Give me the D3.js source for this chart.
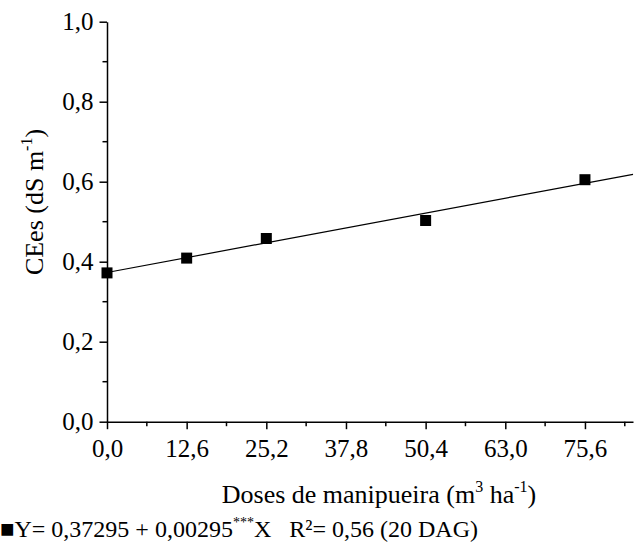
<!DOCTYPE html>
<html><head><meta charset="utf-8">
<script src="https://cdn.jsdelivr.net/npm/d3@7"></script>
<style>body{margin:0;background:#fff}svg{display:block}text{font-family:"Liberation Serif","Times New Roman",serif;fill:#000}</style>
</head><body>
<script>
const doses = [0, 12.6, 25.2, 50.4, 75.6];
const cees = [0.372, 0.409, 0.458, 0.503, 0.605];
const xTicks = [0, 12.6, 25.2, 37.8, 50.4, 63.0, 75.6];
const yTicks = [0, 0.2, 0.4, 0.6, 0.8, 1.0];
const intercept = 0.37295, slope = 0.00295;

const W = 636, H = 544;
const svg = d3.select("body").append("svg").attr("width", W).attr("height", H);
const x = d3.scaleLinear().domain([0, 83.2]).range([107, 633]);
const y = d3.scaleLinear().domain([0, 1]).range([421.7, 21.7]);
const fmt = d => d.toFixed(1).replace(".", ",");

// x axis
const xa = svg.append("g").attr("transform", `translate(0,${y(0)})`)
  .call(d3.axisBottom(x).tickValues(xTicks).tickFormat(fmt).tickSize(7.5).tickSizeOuter(0));
const xMinor = d3.range(6.3, 83.2, 12.6);
xa.selectAll(".minor").data(xMinor).enter().append("line").attr("class","minor")
  .attr("x1", d=>x(d)).attr("x2", d=>x(d)).attr("y1",0).attr("y2",4.5).attr("stroke","#000").attr("stroke-width",1.5);
xa.selectAll(".tick text").attr("y", 35).attr("dy", 0);
// y axis
const ya = svg.append("g").attr("transform", `translate(${x(0)},0)`)
  .call(d3.axisLeft(y).tickValues(yTicks).tickFormat(fmt).tickSize(7.5).tickSizeOuter(0).tickPadding(6));
const yMinor = d3.range(0.1, 1, 0.2);
ya.selectAll(".minor").data(yMinor).enter().append("line").attr("class","minor")
  .attr("y1", d=>y(d)).attr("y2", d=>y(d)).attr("x1",0).attr("x2",-4.5).attr("stroke","#000").attr("stroke-width",1.5);
ya.selectAll(".tick text").attr("dy","0.33em");
svg.selectAll(".domain").attr("stroke","#000").attr("stroke-width",1.5);
svg.selectAll(".tick line").attr("stroke","#000").attr("stroke-width",1.5);
svg.selectAll(".tick text").style("font-size","25px").style("font-family",'"Liberation Serif",serif');

// regression line
const xMax = x.domain()[1];
svg.append("line").attr("x1", x(0)).attr("y1", y(intercept))
  .attr("x2", x(xMax)).attr("y2", y(intercept + slope * xMax))
  .attr("stroke","#000").attr("stroke-width",1.2);

// points
const s = 11;
svg.selectAll("rect.pt").data(doses).enter().append("rect").attr("class","pt")
  .attr("x", (d,i)=>x(d)-s/2).attr("y",(d,i)=>y(cees[i])-s/2).attr("width",s).attr("height",s).attr("fill","#000");

// axis titles
const xt = svg.append("text").attr("x", 379).attr("y", 503).attr("text-anchor","middle").style("font-size","26px");
xt.append("tspan").text("Doses de manipueira (m");
xt.append("tspan").attr("dy",-11).style("font-size","16px").text("3");
xt.append("tspan").attr("dy",11).text(" ha");
xt.append("tspan").attr("dy",-11).style("font-size","16px").text("-1");
xt.append("tspan").attr("dy",11).text(")");

const yt = svg.append("text").attr("transform","translate(43,202) rotate(-90)").attr("text-anchor","middle").style("font-size","26px");
yt.append("tspan").text("CEes (dS m");
yt.append("tspan").attr("dy",-11).style("font-size","16px").text("-1");
yt.append("tspan").attr("dy",11).text(")");

// equation footnote
const ft = svg.append("text").attr("x", 0).attr("y", 537).style("font-size","24px").style("white-space","pre");
ft.append("tspan").text("\u25A0Y= 0,37295 + 0,00295");
ft.append("tspan").attr("dy",-10).style("font-size","14px").text("***");
ft.append("tspan").attr("dy",10).text("X   R\u00B2= 0,56 (20 DAG)");
</script>
</body></html>
